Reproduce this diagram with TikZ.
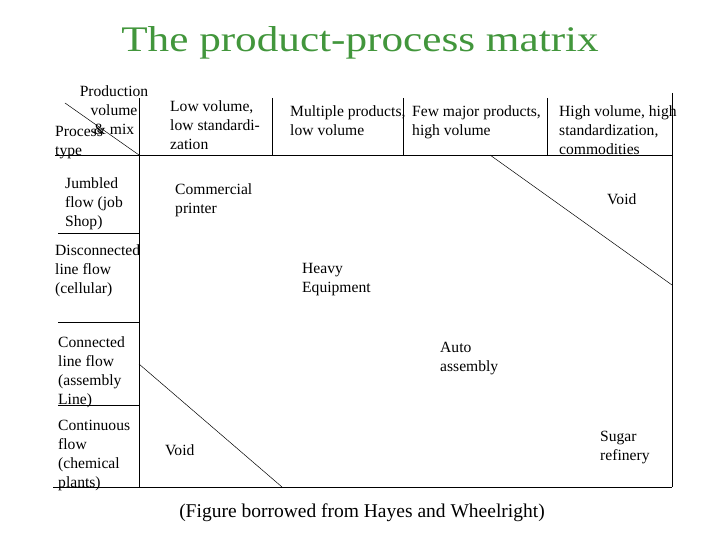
\documentclass[tikz,border=0pt]{standalone}
\usepackage{fontspec}
\setmainfont{Liberation Serif}
\definecolor{titlegreen}{RGB}{66,150,60}

\begin{document}
\begin{tikzpicture}[
      x=1pt, y=-1pt,
      /tikz/font=\fontsize{15.6}{19}\selectfont,
      cell/.style={inner sep=0pt, anchor=base west, align=left},
      rule/.style={line width=0.8pt},
      diag/.style={line width=0.5pt},
    ]
    \useasboundingbox (0,0) rectangle (720,540);

    % title
    \node[inner sep=0pt, anchor=base, text=titlegreen, font=\fontsize{36}{40}\selectfont]
      (title) at (360,52) {\scalebox{1.2}[1]{The product-process matrix}};

    % frame of the matrix
    \draw[rule] (55,155) -- (672,155);
    \draw[rule] (53,487) -- (672,487);
    \draw[rule] (139,98) -- (139,487);
    \draw[rule] (672,93) -- (672,487);
    \foreach \x in {272,403,547} \draw[rule] (\x,98) -- (\x,155);
    \foreach \y in {233,322,405} \draw[rule] (58,\y) -- (139,\y);

    % diagonals
    \draw[diag] (65,103) -- (139,155);
    \draw[diag] (490,155) -- (672,285);
    \draw[diag] (139,364) -- (282,487);

    % corner cell (nodes sit on the baseline of their last line)
    \node[cell, anchor=base, align=center] (prodvol) at (114,135) {Production\\volume\\\& mix};
    \node[cell] (proctype) at (55,156) {Process\\type};

    % column heads
    \node[cell] (hdlow) at (170,150) {Low volume,\\low standardi-\\zation};
    \node[cell] (hdmulti) at (290,136) {Multiple products,\\low volume};
    \node[cell] (hdfew) at (412,136) {Few major products,\\high volume};
    \node[cell] (hdhigh) at (559,155) {High volume, high\\standardization,\\commodities};

    % row heads
    \node[cell] (rjumb) at (65,226) {Jumbled\\flow (job\\Shop)};
    \node[cell] (rdisc) at (55,293) {Disconnected\\line flow\\(cellular)};
    \node[cell] (rconn) at (58,404) {Connected\\line flow\\(assembly\\Line)};
    \node[cell] (rcont) at (58,487) {Continuous\\flow\\(chemical\\plants)};

    % entries
    \node[cell] (commercial) at (175,214) {Commercial\\printer};
    \node[cell] (voidtop) at (607,205) {Void};
    \node[cell] (heavy) at (302,292) {Heavy\\Equipment};
    \node[cell] (auto) at (440,371) {Auto\\assembly};
    \node[cell] (voidbot) at (165,455) {Void};
    \node[cell] (sugar) at (600,460) {Sugar\\refinery};

    \node[inner sep=0pt, anchor=base, font=\fontsize{19.5}{23}\selectfont]
      (caption) at (362,517) {(Figure borrowed from Hayes and Wheelright)};
  \end{tikzpicture}
\end{document}
